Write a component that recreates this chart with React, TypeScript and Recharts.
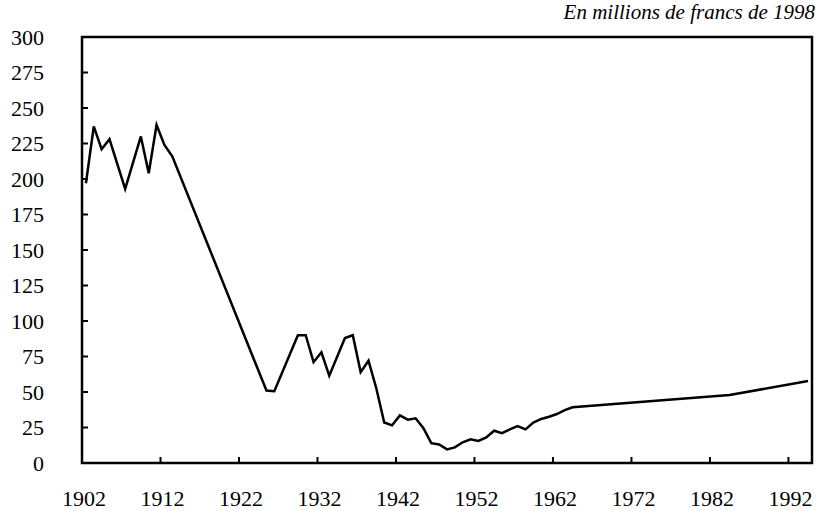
import React from 'react';
import { LineChart, Line, XAxis, YAxis, ReferenceArea } from 'recharts';

// years that carry a value (gaps are drawn as straight segments)
const years = [
    1902, 1903, 1904, 1905, 1907, 1909, 1910, 1911, 1912, 1913,
    1925, 1926, 1929, 1930, 1931, 1932, 1933, 1935, 1936, 1937, 1938, 1939,
    1940, 1941, 1942, 1943, 1944, 1945, 1946, 1947, 1948, 1949, 1950, 1951,
    1952, 1953, 1954, 1955, 1956, 1957, 1958, 1959, 1960, 1961, 1962, 1963,
    1964, 1984, 1994,
];

// en millions de francs de 1998
const montants = [
    197, 237, 221, 228, 193, 230, 204, 238, 224, 216,
    51, 50.5, 90, 90, 71, 78, 61.5, 88, 90, 64, 72, 52.5,
    28.5, 26.5, 33.5, 30.5, 31.5, 24.5, 14, 13, 9.6, 11, 14.6, 16.7,
    15.5, 18, 22.7, 21, 23.7, 26, 23.7, 28.4, 31, 32.6, 34.5, 37.3,
    39.2, 47.9, 57.7,
];

const tickYears = [1902, 1912, 1922, 1932, 1942, 1952, 1962, 1972, 1982, 1992];
const yTicks = [0, 25, 50, 75, 100, 125, 150, 175, 200, 225, 250, 275, 300];

const data = years.map((annee, i) => ({ annee, valeur: montants[i] }));

const FONT = '"Liberation Serif", "Times New Roman", serif';

const XTick = (props: any) => {
    const { x, y, index } = props;
    return (
        <g>
            <line x1={x} y1={y} x2={x} y2={y - 6} stroke="#000" strokeWidth={2} />
            <text x={x + 2} y={y + 35} dy="0.35em" textAnchor="middle" fontSize={22} fontFamily={FONT} fill="#000">
                {tickYears[index]}
            </text>
        </g>
    );
};

const YTick = (props: any) => {
    const { x, y, payload } = props;
    return (
        <g>
            <line x1={x} y1={y} x2={x + 6} y2={y} stroke="#000" strokeWidth={2} />
            <text x={x - 38} y={y} dy="0.35em" textAnchor="end" fontSize={22} fontFamily={FONT} fill="#000">
                {payload.value}
            </text>
        </g>
    );
};

const App: React.FC = () => {
    return (
        <div style={{ position: 'absolute', left: 0, top: 0, width: 821, height: 511, background: '#fff' }}>
            <div
                style={{
                    position: 'absolute',
                    right: 6,
                    top: 0,
                    fontFamily: FONT,
                    fontStyle: 'italic',
                    fontSize: 21,
                    lineHeight: '24px',
                    color: '#000',
                }}
            >
                En millions de francs de 1998
            </div>
            <LineChart
                width={821}
                height={511}
                data={data}
                margin={{ top: 37, right: 9, left: 0, bottom: 0 }}
            >
                <XAxis
                    dataKey="annee"
                    type="number"
                    domain={[1901.5, 1994.5]}
                    ticks={tickYears.map((t) => t - 0.5)}
                    interval={0}
                    allowDataOverflow
                    axisLine={false}
                    tickLine={false}
                    tickSize={0}
                    tickMargin={0}
                    height={48}
                    tick={<XTick />}
                />
                <YAxis
                    type="number"
                    domain={[0, 300]}
                    ticks={yTicks}
                    interval={0}
                    axisLine={false}
                    tickLine={false}
                    tickSize={0}
                    tickMargin={0}
                    width={82}
                    tick={<YTick />}
                />
                <ReferenceArea
                    x1={1901.5}
                    x2={1994.5}
                    y1={0}
                    y2={300}
                    fill="none"
                    stroke="#000"
                    strokeWidth={2.5}
                    fillOpacity={0}
                />
                <Line
                    type="linear"
                    dataKey="valeur"
                    stroke="#000"
                    strokeWidth={2.5}
                    dot={false}
                    isAnimationActive={false}
                />
            </LineChart>
        </div>
    );
};

export default App;
